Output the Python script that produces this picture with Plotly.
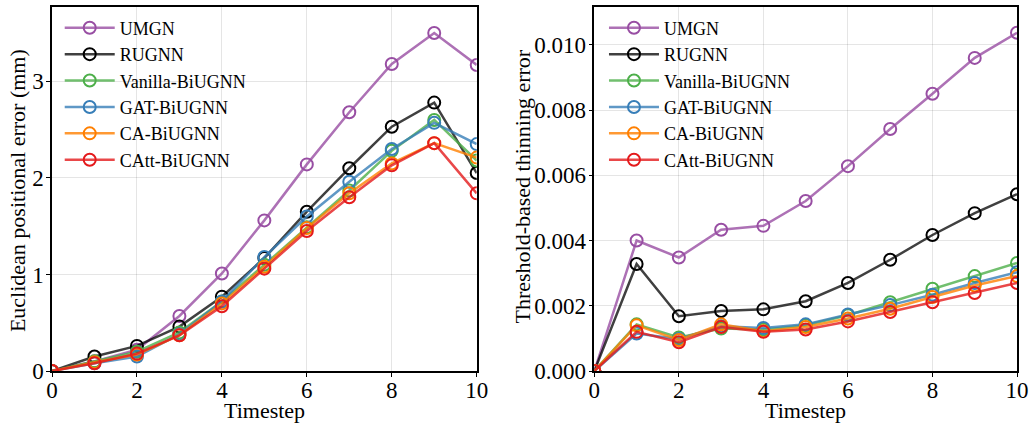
import plotly.graph_objects as go

timesteps = list(range(11))
models = ["UMGN", "RUGNN", "Vanilla-BiUGNN", "GAT-BiUGNN", "CA-BiUGNN", "CAtt-BiUGNN"]
colors = ["rgba(152,78,163,0.8)", "rgba(0,0,0,0.75)", "rgba(77,175,74,0.8)",
          "rgba(55,126,184,0.8)", "rgba(255,127,0,0.8)", "rgba(228,26,28,0.8)"]
marker_colors = ["#984ea3", "#000000", "#4daf4a", "#377eb8", "#ff7f00", "#e41a1c"]

pos_umgn = [0, 0.10, 0.22, 0.57, 1.01, 1.56, 2.14, 2.68, 3.18, 3.50, 3.17]
pos_rugnn = [0, 0.15, 0.26, 0.46, 0.77, 1.17, 1.65, 2.10, 2.53, 2.78, 2.05]
pos_vanilla = [0, 0.10, 0.20, 0.40, 0.72, 1.10, 1.49, 1.87, 2.28, 2.60, 2.18]
pos_gat = [0, 0.08, 0.15, 0.38, 0.72, 1.18, 1.60, 1.96, 2.30, 2.57, 2.35]
pos_ca = [0, 0.09, 0.17, 0.37, 0.70, 1.08, 1.48, 1.84, 2.15, 2.36, 2.21]
pos_catt = [0, 0.08, 0.18, 0.37, 0.67, 1.06, 1.45, 1.80, 2.13, 2.36, 1.84]

thin_umgn = [0, 0.00400, 0.00348, 0.00433, 0.00445, 0.00521, 0.00628, 0.00742, 0.00850, 0.00960, 0.01037]
thin_rugnn = [0, 0.00328, 0.00168, 0.00184, 0.00189, 0.00214, 0.00270, 0.00341, 0.00417, 0.00484, 0.00542]
thin_vanilla = [0, 0.00143, 0.00103, 0.00130, 0.00127, 0.00140, 0.00171, 0.00211, 0.00252, 0.00291, 0.00331]
thin_gat = [0, 0.00115, 0.00098, 0.00137, 0.00132, 0.00143, 0.00173, 0.00202, 0.00234, 0.00270, 0.00303]
thin_ca = [0, 0.00140, 0.00095, 0.00143, 0.00122, 0.00135, 0.00161, 0.00191, 0.00227, 0.00262, 0.00291]
thin_catt = [0, 0.00120, 0.00088, 0.00135, 0.00120, 0.00127, 0.00152, 0.00181, 0.00211, 0.00239, 0.00270]

pos_series = [pos_umgn, pos_rugnn, pos_vanilla, pos_gat, pos_ca, pos_catt]
thin_series = [thin_umgn, thin_rugnn, thin_vanilla, thin_gat, thin_ca, thin_catt]

x_title = "Timestep"
y_title_left = "Euclidean positional error (mm)"
y_title_right = "Threshold-based thinning error"

FONT = "Liberation Serif"
fig = go.Figure()

for i, name in enumerate(models):
    fig.add_trace(go.Scatter(
        x=timesteps, y=pos_series[i], name=name, mode="lines+markers",
        line=dict(color=colors[i], width=2.5),
        marker=dict(symbol="circle-open", size=12, color=marker_colors[i], line=dict(width=2)),
        xaxis="x", yaxis="y", legend="legend"))
for i, name in enumerate(models):
    fig.add_trace(go.Scatter(
        x=timesteps, y=thin_series[i], name=name, mode="lines+markers",
        line=dict(color=colors[i], width=2.5),
        marker=dict(symbol="circle-open", size=12, color=marker_colors[i], line=dict(width=2)),
        xaxis="x2", yaxis="y2", legend="legend2"))

axis_common = dict(showline=True, linecolor="black", linewidth=1.5, mirror=True,
                   ticks="outside", ticklen=4, tickcolor="black",
                   showgrid=True, gridcolor="rgba(0,0,0,0.1)", gridwidth=1,
                   zeroline=False, tickfont=dict(family=FONT, size=23, color="black"))

fig.update_layout(
    width=1034, height=427,
    margin=dict(l=52, r=14, t=5, b=56),
    plot_bgcolor="white", paper_bgcolor="white",
    font=dict(family=FONT, color="black"),
    xaxis=dict(domain=[0, 0.4401], range=[0, 10], dtick=2, ticklabelstandoff=-6, **axis_common),
    yaxis=dict(range=[0, 3.77], dtick=1, ticklabelstandoff=-2, **axis_common),
    xaxis2=dict(domain=[0.562, 1], range=[0, 10], dtick=2, anchor="y2", ticklabelstandoff=-6,
                **axis_common),
    yaxis2=dict(range=[0, 0.01116], dtick=0.002, tickformat=".3f", anchor="x2",
                ticklabelstandoff=-2, **axis_common),
    legend=dict(x=0.008, y=0.993, xanchor="left", yanchor="top", bgcolor="rgba(255,255,255,0)",
                font=dict(family=FONT, size=18), tracegroupgap=0, itemwidth=50),
    legend2=dict(x=0.572, y=0.993, xanchor="left", yanchor="top", bgcolor="rgba(255,255,255,0)",
                 font=dict(family=FONT, size=18), tracegroupgap=0, itemwidth=50),
)

# axis titles placed as annotations (paper coords: x 52..1020 px, y 371..5 px)
def px_x(p):
    return (p - 52) / 968.0

def px_y(p):
    return (371 - p) / 366.0

title_font = dict(family=FONT, size=22, color="black")
fig.add_annotation(text=x_title, xref="paper", yref="paper", x=px_x(265), y=px_y(411),
                   xanchor="center", yanchor="middle", showarrow=False, font=title_font)
fig.add_annotation(text=x_title, xref="paper", yref="paper", x=px_x(808), y=px_y(411),
                   xanchor="center", yanchor="middle", showarrow=False, font=title_font)
fig.add_annotation(text=y_title_left, xref="paper", yref="paper", x=px_x(18), y=px_y(190),
                   xanchor="center", yanchor="middle", showarrow=False, textangle=-90, font=title_font)
fig.add_annotation(text=y_title_right, xref="paper", yref="paper", x=px_x(523), y=px_y(186),
                   xanchor="center", yanchor="middle", showarrow=False, textangle=-90, font=title_font)

fig.write_html("out.html")
